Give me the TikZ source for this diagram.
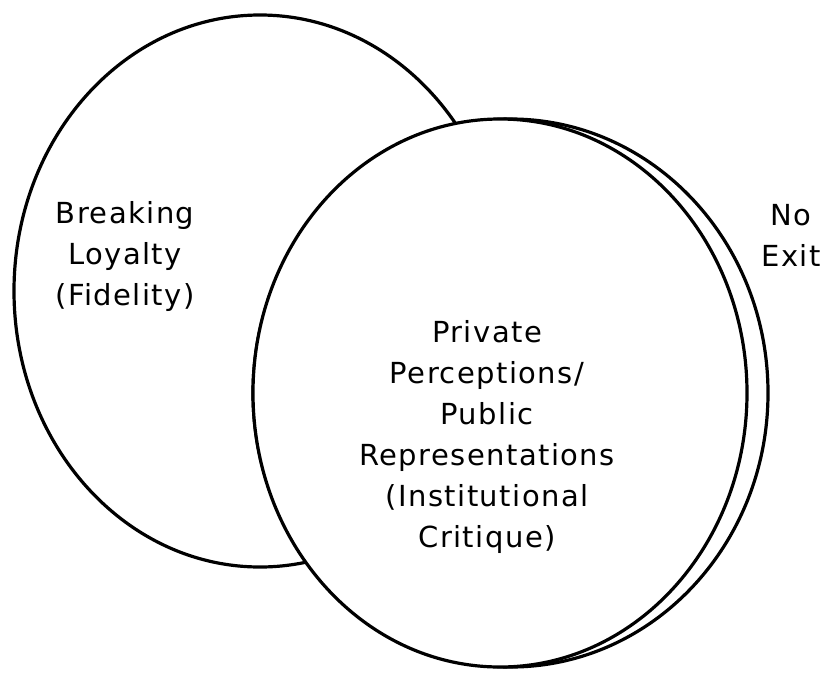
\documentclass[tikz,border=0pt]{standalone}
\usepackage{fontspec}
\setmainfont{DejaVu Sans}[LetterSpace=5]
\begin{document}
\begin{tikzpicture}[x=1pt,y=-1pt,
  ring/.style={draw=black,line width=3.2pt,fill=white},
  label/.style={align=center,inner sep=0pt,font=\fontsize{29}{41}\selectfont}]
  \useasboundingbox (0,0) rectangle (832,672);
  % loyalty ellipse (behind)
  \draw[ring] (260,291) ellipse [x radius=246,y radius=276];
  % doubled outline of the central ellipse
  \draw[ring] (510.5,393) ellipse [x radius=257.5,y radius=274];
  \draw[ring] (500,393) ellipse [x radius=247,y radius=274];
  % labels
  \node[label] (loyalty) at (125,256) {Breaking\\Loyalty\\(Fidelity)};
  \node[label] (critique) at (487,437) {Private\\Perceptions/\\Public\\Representations\\(Institutional\\Critique)};
  \node[label] (noexit) at (791,235) {No\\Exit};
\end{tikzpicture}
\end{document}
